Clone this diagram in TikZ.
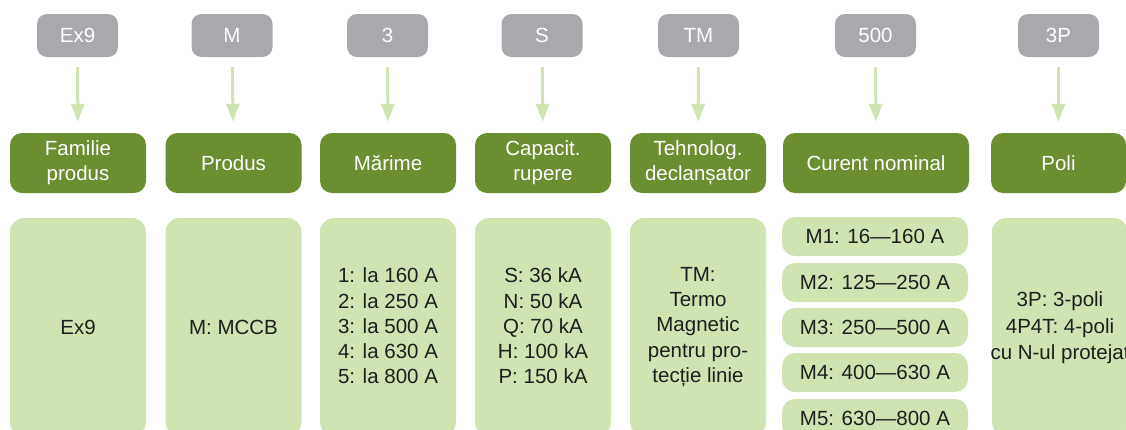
\documentclass[tikz,border=0pt]{standalone}
\usepackage{fontspec}
\setmainfont{Liberation Sans}
\usetikzlibrary{arrows.meta}
\definecolor{codegrey}{RGB}{167,169,172}
\definecolor{darkgreen}{RGB}{106,142,48}
\definecolor{lightgreen}{RGB}{208,228,178}
\definecolor{txtdark}{RGB}{30,30,30}
\tikzset{
  codebox/.style={fill=codegrey, rounded corners=10pt, minimum width=81pt, minimum height=43pt, inner sep=0pt, text=white, font=\fontsize{20.5}{24.3}\selectfont},
  headbox/.style={fill=darkgreen, rounded corners=12pt, minimum width=136pt, minimum height=60pt, inner sep=0pt, text=white, align=center, font=\fontsize{20.5}{25}\selectfont},
  valbox/.style={fill=lightgreen, rounded corners=14pt, minimum width=136pt, minimum height=218pt, inner sep=0pt, text=txtdark, align=center, font=\fontsize{20.5}{25}\selectfont},
  pillbox/.style={fill=lightgreen, rounded corners=13pt, minimum width=186pt, minimum height=39pt, inner sep=0pt, text=txtdark, font=\fontsize{20.5}{24.3}\selectfont},
  linktxt/.style={text=txtdark, align=center, inner sep=0pt, font=\fontsize{20.5}{25.3}\selectfont},
  downarrow/.style={draw=lightgreen, line width=3pt, -{Triangle[width=13pt,length=18pt]}, shorten <=10pt, shorten >=11pt}
}
\begin{document}
\begin{tikzpicture}[x=1pt,y=-1pt]
\clip (0,0) rectangle (1126,429);
\useasboundingbox (0,0) rectangle (1126,429);
% code boxes
\node[codebox] (g1) at (77.5,35.5) {Ex9};
\node[codebox] (g2) at (232,35.5) {M};
\node[codebox] (g3) at (387.5,35.5) {3};
\node[codebox] (g4) at (542,35.5) {S};
\node[codebox] (g5) at (698.5,35.5) {TM};
\node[codebox] (g6) at (875.5,35.5) {500};
\node[codebox] (g7) at (1058.5,35.5) {3P};
% header boxes
\node[headbox] (h1) at (78,163) {Familie\\produs};
\node[headbox] (h2) at (233.5,163) {Produs};
\node[headbox] (h3) at (388,163) {Mărime};
\node[headbox] (h4) at (543,163) {Capacit.\\rupere};
\node[headbox] (h5) at (698,163) {Tehnolog.\\declanșator};
\node[headbox, minimum width=186pt] (h6) at (876,163) {Curent nominal};
\node[headbox, minimum width=135pt] (h7) at (1058.5,163) {Poli};
% arrows
\foreach \i in {1,...,7} { \draw[downarrow] (g\i) -- (h\i); }
% value boxes
\node[valbox] (v1) at (78,327) {Ex9};
\node[valbox] (v2) at (233.5,327) {M: MCCB};
\node[valbox] (v3) at (388,327) {};
\node[linktxt] (t3) at (388,326) {1: la 160 A\\2: la 250 A\\3: la 500 A\\4: la 630 A\\5: la 800 A};
\node[valbox] (v4) at (543,327) {};
\node[linktxt] (t4) at (543,326) {S: 36 kA\\N: 50 kA\\Q: 70 kA\\H: 100 kA\\P: 150 kA};
\node[valbox] (v5) at (698,327) {};
\node[linktxt] (t5) at (698,327) {TM:\\Termo\\Magnetic\\pentru pro-\\tecție linie};
\node[valbox] (v7) at (1060,327) {};
\node[linktxt, font=\fontsize{20.5}{26.5}\selectfont] (t7) at (1060,328) {3P: 3-poli\\4P4T: 4-poli\\cu N-ul protejat};
% current pills
\node[pillbox] (p1) at (875,236.5) {M1: 16—160 A};
\node[pillbox] (p2) at (875,282.5) {M2: 125—250 A};
\node[pillbox] (p3) at (875,327.5) {M3: 250—500 A};
\node[pillbox] (p4) at (875,372.5) {M4: 400—630 A};
\node[pillbox] (p5) at (875,418.5) {M5: 630—800 A};
\end{tikzpicture}
\end{document}
